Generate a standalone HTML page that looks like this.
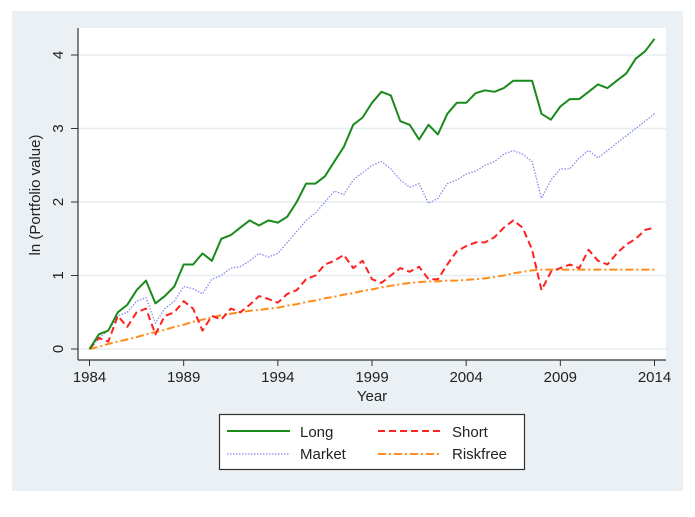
<!DOCTYPE html>
<html><head><meta charset="utf-8"><style>
body{margin:0;background:#fff;width:695px;height:512px;overflow:hidden}
svg{font-family:"Liberation Sans",sans-serif}
</style></head><body>
<svg id="chart" width="695" height="512">
<rect x="12" y="11" width="671" height="480" fill="#eaf0f3"/>
<rect x="78" y="28" width="588" height="332" fill="#fff"/>
<g id="grid"></g><g id="series"></g><g id="axes"></g>
<text x="40" y="195" transform="rotate(-90 40 195)" text-anchor="middle" font-size="15" fill="#222">ln (Portfolio value)</text>
<text x="372" y="401" text-anchor="middle" font-size="15" fill="#222">Year</text>
<g>
<rect x="219.5" y="414.5" width="305" height="55" fill="#fff" stroke="#333" stroke-width="1.2"/>
<line x1="227" y1="431" x2="290" y2="431" stroke="#1a8a1a" stroke-width="2"/>
<text x="300" y="437" font-size="15" fill="#222">Long</text>
<line x1="378" y1="431" x2="442" y2="431" stroke="#ff2020" stroke-width="2" stroke-dasharray="7,4"/>
<text x="452" y="437" font-size="15" fill="#222">Short</text>
<line x1="227" y1="454" x2="290" y2="454" stroke="#8a8aee" stroke-width="1.3" stroke-dasharray="1.5,1.5"/>
<text x="300" y="459" font-size="15" fill="#222">Market</text>
<line x1="378" y1="454" x2="442" y2="454" stroke="#ff8c1a" stroke-width="2" stroke-dasharray="8,3,2,3"/>
<text x="452" y="459" font-size="15" fill="#222">Riskfree</text>
</g>
</svg>
<script>
const years=[];for(let i=0;i<=60;i++)years.push(1984+i/2);
const longVals=[0,0.2,0.25,0.5,0.6,0.8,0.93,0.62,0.72,0.85,1.15,1.15,1.3,1.2,1.5,1.55,1.65,1.75,1.68,1.75,1.72,1.8,2.0,2.25,2.25,2.35,2.55,2.75,3.05,3.15,3.35,3.5,3.45,3.1,3.05,2.85,3.05,2.92,3.2,3.35,3.35,3.48,3.52,3.5,3.55,3.65,3.65,3.65,3.2,3.12,3.3,3.4,3.4,3.5,3.6,3.55,3.65,3.75,3.95,4.05,4.22];
const marketVals=[0,0.15,0.25,0.45,0.5,0.65,0.7,0.35,0.55,0.65,0.85,0.82,0.75,0.95,1.0,1.1,1.12,1.2,1.3,1.25,1.3,1.45,1.6,1.75,1.85,2.0,2.15,2.1,2.3,2.4,2.5,2.55,2.45,2.3,2.2,2.25,1.98,2.05,2.25,2.3,2.38,2.42,2.5,2.55,2.65,2.7,2.65,2.55,2.05,2.3,2.45,2.45,2.6,2.7,2.6,2.7,2.8,2.9,3.0,3.1,3.2];
const shortVals=[0,0.15,0.1,0.45,0.3,0.5,0.55,0.2,0.45,0.5,0.65,0.55,0.25,0.45,0.4,0.55,0.5,0.6,0.72,0.68,0.63,0.75,0.8,0.95,1.0,1.15,1.2,1.28,1.1,1.2,0.95,0.9,1.0,1.1,1.05,1.12,0.95,0.95,1.15,1.33,1.4,1.45,1.45,1.52,1.65,1.75,1.65,1.35,0.8,1.05,1.1,1.15,1.1,1.35,1.2,1.15,1.3,1.42,1.5,1.62,1.65];
const riskfreeVals=[0,0.03,0.07,0.1,0.13,0.16,0.2,0.23,0.26,0.3,0.33,0.37,0.4,0.43,0.46,0.48,0.5,0.52,0.53,0.55,0.56,0.59,0.61,0.64,0.66,0.69,0.71,0.74,0.76,0.79,0.81,0.84,0.86,0.88,0.9,0.91,0.92,0.92,0.93,0.93,0.94,0.95,0.96,0.98,1.0,1.03,1.05,1.07,1.08,1.08,1.08,1.08,1.08,1.08,1.08,1.08,1.08,1.08,1.08,1.08,1.08];
const xTicks=[1984,1989,1994,1999,2004,2009,2014];
const yTicks=[0,1,2,3,4];
const NS="http://www.w3.org/2000/svg";
const X=y=>89.5+(y-1984)*565/30;
const Y=v=>349-v*73.5;
function mk(tag,attrs,parent){const e=document.createElementNS(NS,tag);for(const k in attrs)e.setAttribute(k,attrs[k]);parent.appendChild(e);return e;}
const grid=document.getElementById('grid'),axes=document.getElementById('axes'),ser=document.getElementById('series');
yTicks.forEach(t=>{
 const g=mk('line',{x1:78,x2:666,y1:Y(t),y2:Y(t),stroke:'#e6edf1','stroke-width':1.5},grid);
 
 
 const tk=mk('line',{x1:71,x2:78,y1:Y(t),y2:Y(t),stroke:'#333'},axes);
 
 
 const tx=mk('text',{x:63,y:Y(t),'text-anchor':'middle','font-size':15,fill:'#222',transform:`rotate(-90 63 ${Y(t)})`},axes);
 tx.textContent=t;
 
 
});
xTicks.forEach(t=>{
 const tk=mk('line',{x1:X(t),x2:X(t),y1:360,y2:366,stroke:'#333'},axes);
 
 
 const tx=mk('text',{x:X(t),y:382,'text-anchor':'middle','font-size':15,fill:'#222'},axes);
 tx.textContent=t;
 
 
});
const ax1=mk('line',{x1:78,x2:78,y1:28,y2:360,stroke:'#333','stroke-width':1.2},axes);


const ax2=mk('line',{x1:78,x2:666,y1:360,y2:360,stroke:'#333','stroke-width':1.2},axes);


function line(vals,style,name){
 const d=vals.map((v,i)=>(i?'L':'M')+X(years[i]).toFixed(1)+','+Y(v).toFixed(1)).join('');
 const p=mk('path',Object.assign({d:d,fill:'none','stroke-linejoin':'round'},style),ser);
 
 
}
line(riskfreeVals,{stroke:'#ff8c1a','stroke-width':2,'stroke-dasharray':'8,3,2,3'},'riskfree-line');
line(marketVals,{stroke:'#8a8aee','stroke-width':1.3,'stroke-dasharray':'1.5,1.5'},'market-line');
line(shortVals,{stroke:'#ff2020','stroke-width':2,'stroke-dasharray':'7,4'},'short-line');
line(longVals,{stroke:'#1a8a1a','stroke-width':2},'long-line');
</script>
</body></html>
